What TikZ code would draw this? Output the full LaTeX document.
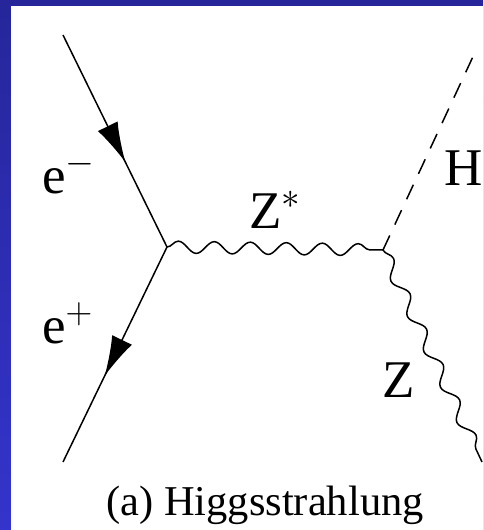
\RequirePackage{fix-cm}
\documentclass[tikz,border=0pt]{standalone}
\usepackage{fontspec}
\setmainfont{Liberation Serif}
\usetikzlibrary{arrows.meta,decorations.markings,decorations.pathmorphing}
\definecolor{slidetop}{HTML}{26269A}
\definecolor{slidebot}{HTML}{3434CC}

\begin{document}
\begin{tikzpicture}[
  x=1pt, y=-1pt,
  fer/.style={line width=1.5pt, postaction={decorate}, decoration={markings, mark=at position 0.6 with {\arrow{Latex[length=40pt,width=22pt]}}}},
  bos/.style={line width=1.5pt, decorate, decoration={snake, amplitude=6pt, segment length=#1}},
  hig/.style={line width=1.5pt, dash pattern=on 16pt off 12pt},
  lab/.style={inner sep=0pt, anchor=base west, font=\fontsize{53}{60}\selectfont},
  captxt/.style={inner sep=0pt, anchor=base, font=\fontsize{42.5}{50}\selectfont}
]
\useasboundingbox (0,0) rectangle (483,530);
\shade[top color=slidetop, bottom color=slidebot] (0,0) rectangle (483,530);
\fill[white] (11,6) rectangle (483,530);
\coordinate (ein) at (63,35);
\coordinate (eout) at (63,462);
\coordinate (v1) at (167,247);
\coordinate (v2) at (383,250);
\coordinate (hend) at (477,48);
\coordinate (zend) at (482,462);
\draw[fer] (ein) -- (v1);
\draw[fer] (v1) -- (eout);
\draw[bos=36pt] (v1) -- (v2);
\draw[bos=39pt] (v2) -- (zend);
\draw[hig] (v2) -- (hend);
\node[lab] (em) at (42,193) {$\mathrm{e}^{-}$};
\node[lab] (ep) at (42,343) {$\mathrm{e}^{+}$};
\node[lab] (zs) at (249,228) {$\mathrm{Z}^{*}$};
\node[lab] (h) at (444,185) {H};
\node[lab] (z) at (382,397) {Z};
\node[captxt] (title) at (265,515) {(a) Higgsstrahlung};
\end{tikzpicture}
\end{document}
